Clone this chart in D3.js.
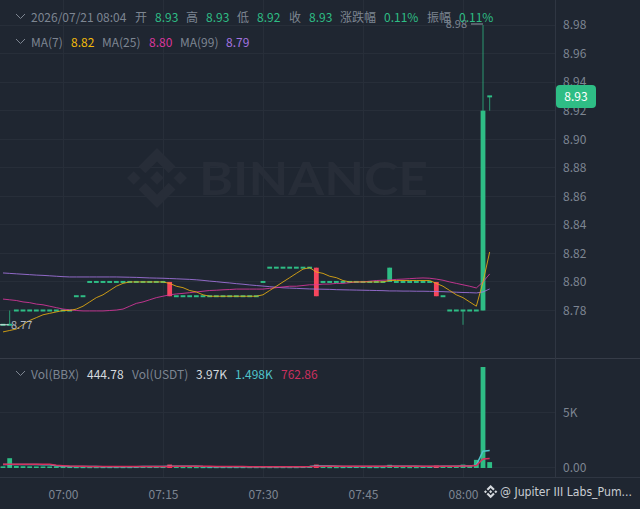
<!DOCTYPE html>
<html>
<head>
<meta charset="utf-8">
<script src="https://cdn.jsdelivr.net/npm/d3@7"></script>
<style>
  html, body { margin: 0; padding: 0; background: #1f2631; overflow: hidden; }
  text { font-family: "Noto Sans CJK SC", "Noto Sans", sans-serif; }
</style>
</head>
<body>
<div id="chart"></div>
<script>
// one candle per minute, 06:51 -> 08:04
let opens = [
  8.77,8.77,8.78,8.78,8.78,8.78,8.78,8.78,8.78,8.78,8.78,8.79,8.79,8.80,8.80,8.80,8.80,8.80,8.80,8.80,
  8.80,8.80,8.80,8.80,8.80,8.80,8.79,8.79,8.79,8.79,8.79,8.79,8.79,8.79,8.79,8.79,8.79,8.79,8.79,8.80,
  8.81,8.81,8.81,8.81,8.81,8.81,8.81,8.81,8.80,8.80,8.80,8.80,8.80,8.80,8.80,8.80,8.80,8.80,8.80,8.80,
  8.80,8.80,8.80,8.80,8.80,8.80,8.79,8.78,8.78,8.78,8.78,8.78,8.78,8.93
];
let closes = [
  8.77,8.77,8.78,8.78,8.78,8.78,8.78,8.78,8.78,8.78,8.78,8.79,8.79,8.80,8.80,8.80,8.80,8.80,8.80,8.80,
  8.80,8.80,8.80,8.80,8.80,8.79,8.79,8.79,8.79,8.79,8.79,8.79,8.79,8.79,8.79,8.79,8.79,8.79,8.79,8.80,
  8.81,8.81,8.81,8.81,8.81,8.81,8.81,8.79,8.80,8.80,8.80,8.80,8.80,8.80,8.80,8.80,8.80,8.80,8.81,8.80,
  8.80,8.80,8.80,8.80,8.80,8.79,8.79,8.78,8.78,8.78,8.78,8.78,8.92,8.93
];
let highs = [
  8.77,8.78,8.78,8.78,8.78,8.78,8.78,8.78,8.78,8.78,8.78,8.79,8.79,8.80,8.80,8.80,8.80,8.80,8.80,8.80,
  8.80,8.80,8.80,8.80,8.80,8.80,8.79,8.79,8.79,8.79,8.79,8.79,8.79,8.79,8.79,8.79,8.79,8.79,8.79,8.80,
  8.81,8.81,8.81,8.81,8.81,8.81,8.81,8.81,8.80,8.80,8.80,8.80,8.80,8.80,8.80,8.80,8.80,8.80,8.81,8.80,
  8.80,8.80,8.80,8.80,8.80,8.80,8.79,8.78,8.78,8.78,8.78,8.78,8.98,8.93
];
let lows = [
  8.77,8.77,8.78,8.78,8.78,8.78,8.78,8.78,8.78,8.78,8.78,8.79,8.79,8.80,8.80,8.80,8.80,8.80,8.80,8.80,
  8.80,8.80,8.80,8.80,8.80,8.79,8.79,8.79,8.79,8.79,8.79,8.79,8.79,8.79,8.79,8.79,8.79,8.79,8.79,8.80,
  8.81,8.81,8.81,8.81,8.81,8.81,8.81,8.79,8.80,8.80,8.80,8.80,8.80,8.80,8.80,8.80,8.80,8.80,8.80,8.80,
  8.80,8.80,8.80,8.80,8.80,8.79,8.79,8.78,8.78,8.77,8.78,8.78,8.78,8.92
];
let ma7 = [
  8.765,8.766,8.767,8.770,8.773,8.775,8.777,8.778,8.779,8.780,8.780,8.781,8.783,8.786,8.789,8.791,8.794,8.797,8.799,8.800,
  8.800,8.800,8.800,8.800,8.800,8.799,8.797,8.796,8.794,8.793,8.791,8.790,8.790,8.790,8.790,8.790,8.790,8.790,8.790,8.791,
  8.794,8.797,8.800,8.803,8.806,8.809,8.810,8.807,8.806,8.804,8.803,8.801,8.800,8.800,8.800,8.800,8.800,8.800,8.801,8.801,
  8.801,8.801,8.801,8.801,8.801,8.799,8.797,8.794,8.791,8.789,8.786,8.783,8.800,8.821
];
let ma25 = [
  8.7880,8.7875,8.7870,8.7860,8.7855,8.7845,8.7840,8.7830,8.7820,8.7810,8.7805,8.7800,8.7797,8.7797,8.7797,8.7797,8.7800,8.7803,8.7810,8.7830,
  8.7850,8.7860,8.7875,8.7890,8.7900,8.7910,8.7916,8.7920,8.7925,8.7930,8.7935,8.7940,8.7942,8.7945,8.7947,8.7950,8.7950,8.7950,8.7950,8.7950,
  8.7955,8.7960,8.7965,8.7970,8.7970,8.7975,8.7980,8.7980,8.7985,8.7985,8.7990,8.7990,8.7995,8.8000,8.8000,8.8005,8.8010,8.8012,8.8014,8.8018,
  8.8020,8.8023,8.8026,8.8028,8.8026,8.8020,8.8012,8.8000,8.7990,8.7980,8.7970,8.7958,8.8000,8.8056
];
let ma99 = [
  8.8063,8.8060,8.8057,8.8054,8.8051,8.8048,8.8046,8.8043,8.8040,8.8037,8.8035,8.8035,8.8035,8.8035,8.8035,8.8035,8.8035,8.8035,8.8034,8.8033,
  8.8032,8.8030,8.8028,8.8027,8.8026,8.8024,8.8022,8.8020,8.8018,8.8015,8.8011,8.8006,8.8002,8.7997,8.7993,8.7988,8.7984,8.7979,8.7975,8.7971,
  8.7967,8.7963,8.7959,8.7957,8.7955,8.7953,8.7951,8.7950,8.7949,8.7948,8.7946,8.7945,8.7944,8.7943,8.7942,8.7941,8.7940,8.7939,8.7937,8.7937,
  8.7936,8.7936,8.7935,8.7935,8.7934,8.7933,8.7932,8.7930,8.7928,8.7926,8.7925,8.7923,8.7930,8.7951
];
let volumes = [
  60,800,90,70,60,50,50,50,60,40,40,30,30,30,30,30,30,30,30,30,
  40,40,40,40,40,220,40,30,30,30,30,30,30,30,30,30,30,30,30,30,
  30,30,30,30,30,40,60,220,40,30,30,30,40,40,40,30,30,30,200,40,
  30,30,30,40,60,130,50,50,60,220,60,650,9090,444.78
];
let volMa5 = [
  220,220,220,225,225,220,215,210,120,70,50,45,40,38,35,32,30,30,30,30,
  32,35,38,40,40,75,75,70,65,60,35,32,30,30,30,30,30,30,30,30,
  30,30,30,30,30,32,36,80,85,80,75,50,45,45,40,38,36,35,65,65,
  65,65,60,35,40,55,60,60,65,90,90,170,1440,1498
];
let volMa10 = [
  250,250,250,250,250,250,250,250,170,120,80,70,60,55,50,45,40,38,35,35,
  36,36,38,38,38,55,60,60,60,60,60,58,55,50,45,40,35,32,32,32,
  32,32,32,32,32,33,35,55,60,62,60,62,62,62,62,60,60,60,75,75,
  75,75,72,70,70,72,72,72,75,80,85,130,720,762.86
];

let priceTicks = [8.98, 8.96, 8.94, 8.92, 8.90, 8.88, 8.86, 8.84, 8.82, 8.80, 8.78];
let volTicks = [0, 5000];
let timeTicks = [9, 24, 39, 54, 69];
let timeLabels = ["07:00", "07:15", "07:30", "07:45", "08:00"];

let width = 640, height = 509;
let green = "#2ebd85", red = "#f6465d", gridColor = "#272e39", lineColor = "#2f3642", textColor = "#7d8591";
let logoPaths = [
  "M38.73 53.2l24.59-24.58 24.6 24.6 14.3-14.31L63.32 0 24.43 38.9l14.3 14.3z",
  "M0 63.31l14.3-14.31 14.31 14.31-14.31 14.3z",
  "M38.73 73.41l24.59 24.59 24.6-24.6 14.31 14.29-38.9 38.91-38.91-38.88-.02-.02 14.33-14.29z",
  "M98 63.31l14.3-14.31 14.31 14.3-14.31 14.32z",
  "M77.83 63.3L63.32 48.78 52.59 59.51l-1.24 1.23-2.54 2.54 14.51 14.5 14.51-14.47z"
];

let svg = d3.select("#chart").append("svg")
  .attr("width", width).attr("height", height)
  .style("display", "block");

let x = d3.scaleLinear().domain([0, 73]).range([3, 489.67]);
let y = d3.scaleLinear().domain([8.78, 8.98]).range([310.5, 25]);
let yVol = d3.scaleLinear().domain([0, 5000]).range([467, 412]);

// grid
let grid = svg.append("g").attr("stroke", gridColor).attr("stroke-width", 1).attr("shape-rendering", "crispEdges");
grid.selectAll(".gx").data(timeTicks).enter().append("line")
  .attr("x1", d => x(d)).attr("x2", d => x(d)).attr("y1", 0).attr("y2", 477);
grid.selectAll(".gy").data(priceTicks).enter().append("line")
  .attr("x1", 0).attr("x2", 555).attr("y1", d => y(d)).attr("y2", d => y(d));
grid.selectAll(".gv").data(volTicks).enter().append("line")
  .attr("x1", 0).attr("x2", 555).attr("y1", d => yVol(d)).attr("y2", d => yVol(d));

// watermark
let wm = svg.append("g").attr("fill", "#272d38");
wm.append("g").attr("transform", "translate(127,148) scale(0.474)")
  .selectAll("path").data(logoPaths).enter().append("path").attr("d", d => d);
wm.append("text").attr("x", 199).attr("y", 195)
  .attr("font-size", 46).attr("font-weight", 700)
  .attr("textLength", 229).attr("lengthAdjust", "spacingAndGlyphs")
  .style("font-family", "Lato, sans-serif").text("BINANCE");

// pane borders
let borders = svg.append("g").attr("stroke", lineColor).attr("shape-rendering", "crispEdges");
borders.append("line").attr("x1", 0).attr("x2", width).attr("y1", 358).attr("y2", 358).attr("stroke", "#363c48");
borders.append("line").attr("x1", 0).attr("x2", width).attr("y1", 477).attr("y2", 477);
borders.append("line").attr("x1", 555).attr("x2", 555).attr("y1", 0).attr("y2", 477);

// candles
let candleColor = i => closes[i] < opens[i] ? red : green;
let idx = d3.range(closes.length);
let candles = svg.append("g").selectAll("g").data(idx).enter().append("g");
candles.filter(i => highs[i] > lows[i]).append("rect")
  .attr("x", i => x(i) - 0.5).attr("width", 1)
  .attr("y", i => y(highs[i]))
  .attr("height", i => y(lows[i]) - y(highs[i]))
  .attr("fill", candleColor).attr("opacity", 0.75);
candles.append("rect")
  .attr("x", i => x(i) - 2.4).attr("width", 4.8)
  .attr("y", i => Math.min(y(opens[i]), y(closes[i])) - (opens[i] === closes[i] ? 1 : 0))
  .attr("height", i => Math.max(Math.abs(y(opens[i]) - y(closes[i])), 2))
  .attr("fill", candleColor);

// moving averages
let maLine = d3.line().x((d, i) => x(i)).y(d => y(d));
[[ma99, "#a374e0"], [ma25, "#d9369c"], [ma7, "#e8ae10"]].forEach(([s, c]) => {
  svg.append("path").attr("d", maLine(s)).attr("fill", "none")
    .attr("stroke", c).attr("stroke-width", 1).attr("opacity", 0.85);
});

// high / low markers
svg.append("line").attr("x1", 471).attr("x2", x(72)).attr("y1", y(8.98) - 1).attr("y2", y(8.98) - 1)
  .attr("stroke", "#7d8591").attr("stroke-width", 1.2);
svg.append("text").attr("x", 467).attr("y", 28).attr("text-anchor", "end")
  .attr("font-size", 11).attr("fill", "#7d8591").text("8.98");
svg.append("line").attr("x1", 0).attr("x2", x(1) - 1).attr("y1", y(8.77)).attr("y2", y(8.77))
  .attr("stroke", "#dfe3e8").attr("stroke-width", 1);
svg.append("text").attr("x", 11).attr("y", 329)
  .attr("font-size", 11).attr("fill", "#aeb4bc").text("8.77");

// volume
svg.append("g").selectAll("rect").data(idx).enter().append("rect")
  .attr("x", i => x(i) - 2.4).attr("width", 4.8)
  .attr("y", i => yVol(volumes[i]))
  .attr("height", i => Math.max(yVol(0) - yVol(volumes[i]) + 1, 1.5))
  .attr("fill", candleColor);
let volLine = d3.line().x((d, i) => x(i)).y(d => yVol(d));
[[volMa5, "#4fc3c9"], [volMa10, "#d8305f"]].forEach(([s, c]) => {
  svg.append("path").attr("d", volLine(s)).attr("fill", "none")
    .attr("stroke", c).attr("stroke-width", 1.5);
});

// axes
let styleAxis = g => {
  g.select(".domain").remove();
  g.selectAll("line").remove();
  g.selectAll("text").attr("fill", textColor).attr("font-size", 12);
};
svg.append("g").attr("transform", "translate(563,0)")
  .call(d3.axisRight(y).tickValues(priceTicks).tickFormat(d3.format(".2f")).tickSize(0).tickPadding(0))
  .attr("font-family", null).call(styleAxis);
svg.append("g").attr("transform", "translate(563,1)")
  .call(d3.axisRight(yVol).tickValues(volTicks).tickFormat(d => d === 0 ? "0.00" : "5K").tickSize(0).tickPadding(0))
  .attr("font-family", null).call(styleAxis);
svg.append("g").attr("transform", "translate(0,490)")
  .call(d3.axisBottom(x).tickValues(timeTicks).tickFormat((d, i) => timeLabels[i]).tickSize(0).tickPadding(0))
  .attr("font-family", null).call(styleAxis);

// last price badge
svg.append("rect").attr("x", 556).attr("y", 85).attr("width", 40).attr("height", 23).attr("rx", 4).attr("fill", green);
svg.append("text").attr("x", 576).attr("y", 101).attr("text-anchor", "middle")
  .attr("font-size", 12).attr("fill", "#ffffff").text("8.93");

// legends
let legendRows = [
  {y: 22, items: [
    [31, "2026/07/21 08:04", textColor], [135, "开", textColor], [155, "8.93", green], [186, "高", textColor],
    [206, "8.93", green], [237, "低", textColor], [257, "8.92", green], [289, "收", textColor], [309, "8.93", green],
    [340, "涨跌幅", textColor], [384, "0.11%", green], [427, "振幅", textColor], [459, "0.11%", green]
  ]},
  {y: 47, items: [
    [31, "MA(7)", textColor], [71, "8.82", "#f0b90b"], [102, "MA(25)", textColor], [149, "8.80", "#d9369c"],
    [180, "MA(99)", textColor], [226, "8.79", "#a374e0"]
  ]},
  {y: 379, items: [
    [31, "Vol(BBX)", textColor], [87, "444.78", "#d5d9de"], [132, "Vol(USDT)", textColor],
    [196, "3.97K", "#d5d9de"], [235, "1.498K", "#4fc3c9"], [281, "762.86", "#c9305e"]
  ]}
];
legendRows.forEach(row => {
  svg.append("path").attr("d", "M16 " + (row.y - 8) + "l4.5 4.5l4.5 -4.5")
    .attr("fill", "none").attr("stroke", textColor).attr("stroke-width", 1);
  svg.append("g").selectAll("text").data(row.items).enter().append("text")
    .attr("x", d => d[0]).attr("y", row.y).attr("font-size", 12)
    .attr("fill", d => d[2]).text(d => d[1]);
});

// footer
let foot = svg.append("g").attr("transform", "translate(484,485) scale(0.105)").attr("fill", "#d5d9de");
foot.selectAll("path").data(logoPaths).enter().append("path").attr("d", d => d);
svg.append("text").attr("x", 500).attr("y", 496).attr("font-size", 11.5).attr("fill", "#c8ccd2")
  .attr("textLength", 132).attr("lengthAdjust", "spacingAndGlyphs")
  .style("font-family", "'DejaVu Sans', sans-serif").text("@ Jupiter III Labs_Pum...");
</script>
</body>
</html>
